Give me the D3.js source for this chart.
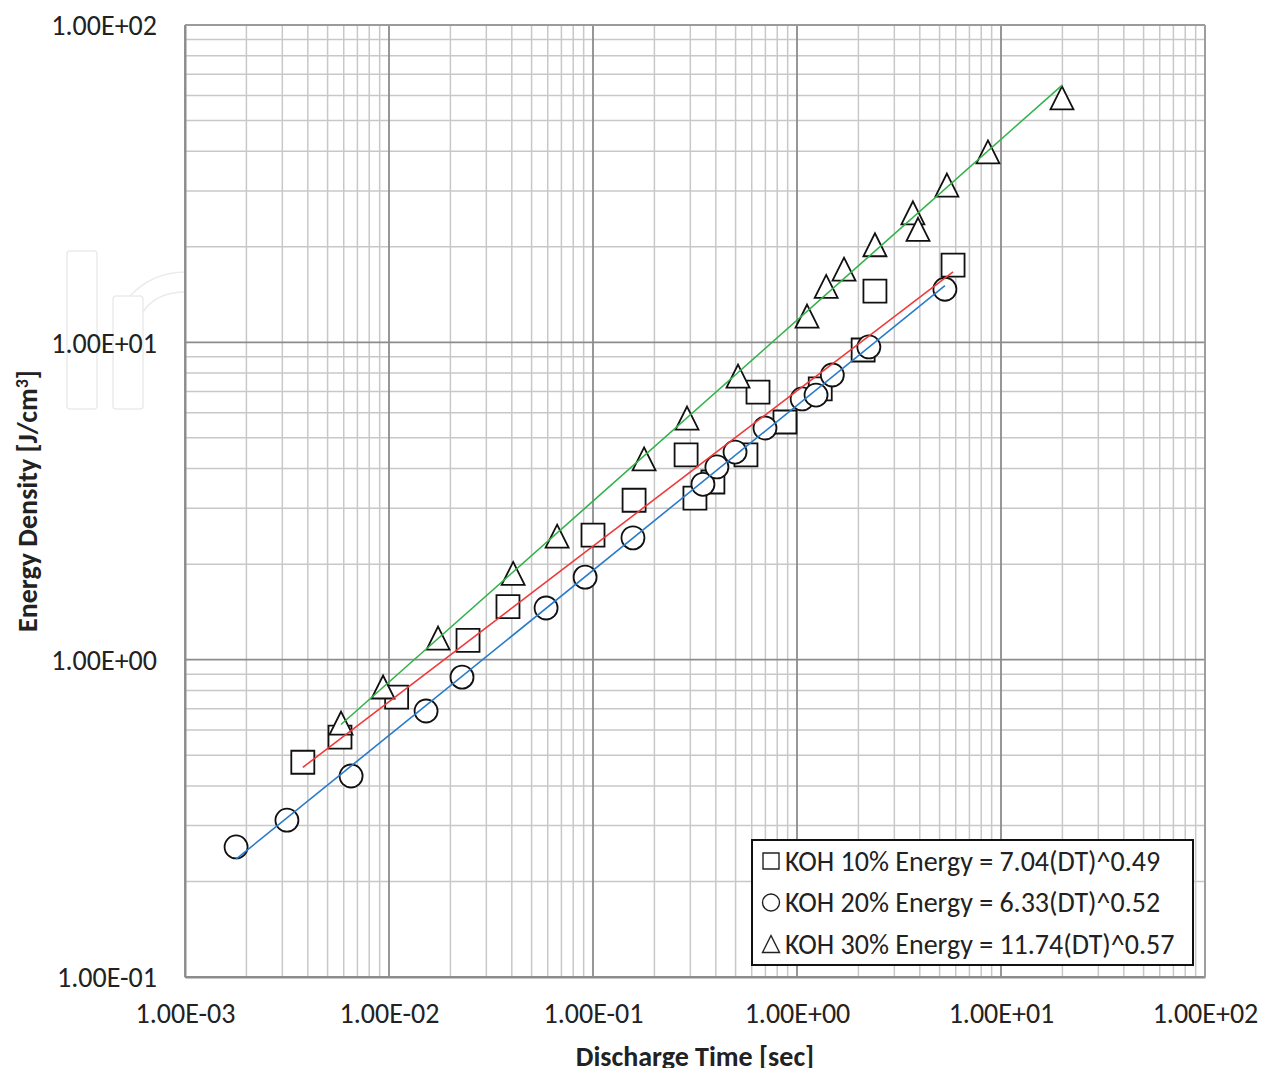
<!DOCTYPE html>
<html>
<head>
<meta charset="utf-8">
<script src="https://cdn.jsdelivr.net/npm/d3@7"></script>
<style>
  body { margin: 0; background: #fff; }
  svg text { font-family: Carlito, Calibri, Lato, "Liberation Sans", sans-serif; fill: #222; }
</style>
</head>
<body>
<svg id="chart" width="1262" height="1068"></svg>
<script>
// discharge time [s] / energy density [J/cm3]
var koh10Time = [0.00378, 0.00575, 0.0109, 0.0244, 0.0383, 0.100, 0.159, 0.286, 0.316, 0.387, 0.562, 0.644, 0.873, 1.30, 2.11, 2.41, 5.82];
var koh10Energy = [0.475, 0.570, 0.762, 1.15, 1.47, 2.47, 3.18, 4.42, 3.23, 3.63, 4.42, 6.97, 5.61, 7.13, 9.46, 14.5, 17.5];

var koh20Time = [0.00178, 0.00316, 0.00652, 0.0152, 0.0228, 0.0589, 0.0915, 0.157, 0.346, 0.405, 0.497, 0.697, 1.06, 1.24, 1.49, 2.25, 5.31];
var koh20Energy = [0.257, 0.312, 0.430, 0.689, 0.881, 1.455, 1.82, 2.42, 3.57, 4.05, 4.51, 5.37, 6.63, 6.82, 7.89, 9.67, 14.7];

var koh30Time = [0.00582, 0.00935, 0.0174, 0.0406, 0.0667, 0.178, 0.289, 0.514, 1.12, 1.39, 1.70, 2.41, 3.70, 3.92, 5.43, 8.63, 19.9];
var koh30Energy = [0.631, 0.820, 1.17, 1.87, 2.45, 4.29, 5.77, 7.83, 12.1, 15.0, 17.0, 20.3, 25.6, 22.7, 31.3, 39.8, 58.9];

// power-law fits from the legend: Energy = a * DT^b
var fitA = [7.04, 6.33, 11.74];
var fitB = [0.49, 0.52, 0.57];

var seriesNames = ["KOH 10% Energy = 7.04(DT)^0.49", "KOH 20% Energy = 6.33(DT)^0.52", "KOH 30% Energy = 11.74(DT)^0.57"];

var xTicks = [1e-3, 1e-2, 1e-1, 1e0, 1e1, 1e2];
var xTickLabels = ["1.00E-03", "1.00E-02", "1.00E-01", "1.00E+00", "1.00E+01", "1.00E+02"];
var yTicks = [1e-1, 1e0, 1e1, 1e2];
var yTickLabels = ["1.00E-01", "1.00E+00", "1.00E+01", "1.00E+02"];

var svg = d3.select("#chart"),
    margin = {top: 25, right: 57, bottom: 91, left: 185},
    width = +svg.attr("width") - margin.left - margin.right,
    height = +svg.attr("height") - margin.top - margin.bottom;

var x = d3.scaleLog().domain([1e-3, 1e2]).range([0, width]);
var y = d3.scaleLog().domain([1e-1, 1e2]).range([height, 0]);

// excel style triangle: as tall as it is wide
var tallTriangle = {
  draw: function(ctx, size) {
    var h = Math.sqrt(size) / 2;
    ctx.moveTo(0, -h);
    ctx.lineTo(h, h);
    ctx.lineTo(-h, h);
    ctx.closePath();
  }
};

// faint watermark behind the plot
var wm = svg.append("g").attr("fill", "none").attr("stroke", "#ebebeb").attr("stroke-width", 1.5);
wm.append("rect").attr("x", 67).attr("y", 251).attr("width", 30).attr("height", 158).attr("rx", 3);
wm.append("rect").attr("x", 113).attr("y", 296).attr("width", 30).attr("height", 113).attr("rx", 3);
wm.append("path").attr("d", "M143,312 C152,298 168,292 186,292 M130,296 C145,280 165,272 186,272");

var g = svg.append("g")
    .attr("transform", "translate(" + margin.left + "," + margin.top + ")");

g.append("rect").attr("width", width).attr("height", height).attr("fill", "#fff");

// minor gridlines
function minors(lo, hi) {
  var out = [];
  for (var e = lo; e < hi; e++)
    for (var m = 2; m <= 9; m++) out.push(m * Math.pow(10, e));
  return out;
}

g.append("g").selectAll("line")
    .data(minors(-3, 2))
  .enter().append("line")
    .attr("x1", function(d) { return x(d); })
    .attr("x2", function(d) { return x(d); })
    .attr("y1", 0).attr("y2", height)
    .attr("stroke", "#c8c8c8").attr("stroke-width", 1.5);

g.append("g").selectAll("line")
    .data(minors(-1, 2))
  .enter().append("line")
    .attr("y1", function(d) { return y(d); })
    .attr("y2", function(d) { return y(d); })
    .attr("x1", 0).attr("x2", width)
    .attr("stroke", "#c8c8c8").attr("stroke-width", 1.5);

// major gridlines
g.append("g").selectAll("line")
    .data(xTicks)
  .enter().append("line")
    .attr("x1", function(d) { return x(d); })
    .attr("x2", function(d) { return x(d); })
    .attr("y1", 0).attr("y2", height)
    .attr("stroke", "#8c8c8c").attr("stroke-width", 1.8);

g.append("g").selectAll("line")
    .data(yTicks)
  .enter().append("line")
    .attr("y1", function(d) { return y(d); })
    .attr("y2", function(d) { return y(d); })
    .attr("x1", 0).attr("x2", width)
    .attr("stroke", "#8c8c8c").attr("stroke-width", 1.8);

// axes
var xAxis = g.append("g")
    .attr("transform", "translate(0," + height + ")")
    .call(d3.axisBottom(x).tickValues(xTicks).tickSize(0).tickPadding(26)
      .tickFormat(function(d, i) { return xTickLabels[i]; }));
var yAxis = g.append("g")
    .call(d3.axisLeft(y).tickValues(yTicks).tickSize(0).tickPadding(28)
      .tickFormat(function(d, i) { return yTickLabels[i]; }));
[xAxis, yAxis].forEach(function(a) {
  a.select(".domain").attr("stroke", "#8c8c8c").attr("stroke-width", 2);
  a.selectAll("text").style("font-size", "28px").attr("fill", "#222");
});
yAxis.selectAll("text").attr("dy", "0.35em");

g.append("line").attr("x1", 0).attr("x2", width).attr("y1", 0).attr("y2", 0)
    .attr("stroke", "#a0a0a0").attr("stroke-width", 1.5);
g.append("line").attr("x1", width).attr("x2", width).attr("y1", 0).attr("y2", height)
    .attr("stroke", "#a0a0a0").attr("stroke-width", 1.5);

// axis titles
svg.append("text")
    .attr("x", margin.left + width / 2)
    .attr("y", 1066)
    .attr("text-anchor", "middle")
    .style("font-size", "28px").style("font-weight", "bold")
    .text("Discharge Time [sec]");

var yt = svg.append("text")
    .attr("transform", "translate(37," + (margin.top + height / 2) + ") rotate(-90)")
    .attr("text-anchor", "middle")
    .style("font-size", "28px").style("font-weight", "bold");
yt.append("tspan").text("Energy Density [J/cm");
yt.append("tspan").attr("dy", "-9").style("font-size", "18px").text("3");
yt.append("tspan").attr("dy", "9").text("]");

// markers
var series = [
  {t: koh10Time, e: koh10Energy, sym: d3.symbolSquare, size: 23 * 23},
  {t: koh20Time, e: koh20Energy, sym: d3.symbolCircle, size: Math.PI * 11.5 * 11.5},
  {t: koh30Time, e: koh30Energy, sym: tallTriangle, size: 23 * 23}
];
var lineColors = ["#f03a3a", "#2a7bc9", "#33b24a"];

series.forEach(function(s) {
  var sym = d3.symbol().type(s.sym).size(s.size);
  g.append("g").selectAll("path")
      .data(d3.range(s.t.length))
    .enter().append("path")
      .attr("d", sym)
      .attr("transform", function(i) { return "translate(" + x(s.t[i]) + "," + y(s.e[i]) + ")"; })
      .attr("fill", "#fff")
      .attr("stroke", "#111")
      .attr("stroke-width", 1.8);
});

// trend lines
var line = d3.line()
    .x(function(d) { return x(d[0]); })
    .y(function(d) { return y(d[1]); });

series.forEach(function(s, k) {
  var lo = d3.min(s.t), hi = d3.max(s.t);
  var pts = [lo, hi].map(function(t) { return [t, fitA[k] * Math.pow(t, fitB[k])]; });
  g.append("path")
      .datum(pts)
      .attr("d", line)
      .attr("fill", "none")
      .attr("stroke", lineColors[k])
      .attr("stroke-width", 1.6);
});

// legend
var lg = svg.append("g").attr("transform", "translate(752,840)");
lg.append("rect").attr("width", 441).attr("height", 125)
    .attr("fill", "#fff").attr("stroke", "#111").attr("stroke-width", 2);

seriesNames.forEach(function(name, k) {
  var cy = 21 + k * 41.5;
  var sz = [16 * 16, Math.PI * 8.5 * 8.5, 17 * 17][k];
  lg.append("path")
      .attr("d", d3.symbol().type(series[k].sym).size(sz))
      .attr("transform", "translate(19," + cy + ")")
      .attr("fill", "#fff").attr("stroke", "#222").attr("stroke-width", 1.4);
  lg.append("text")
      .attr("x", 33).attr("y", cy).attr("dy", "0.35em")
      .style("font-size", "28px")
      .text(name);
});
</script>
</body>
</html>
